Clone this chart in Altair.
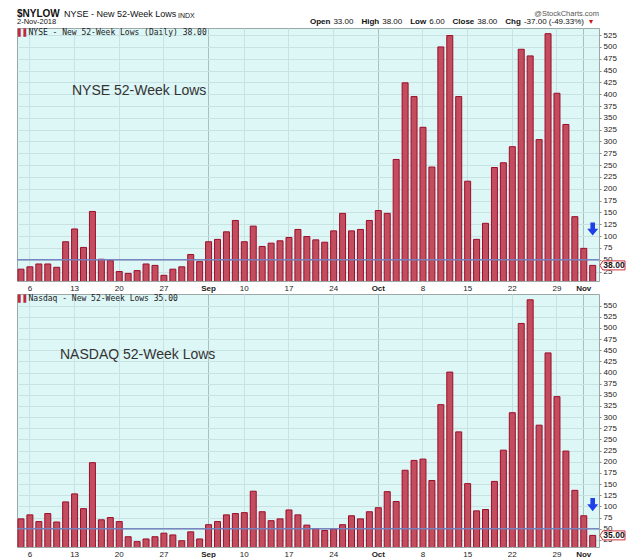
import altair as alt
import pandas as pd

# ---------------- data ----------------
dates = [d.strftime("%Y-%m-%d") for d in pd.bdate_range("2018-08-03", "2018-11-02")
         if d.strftime("%Y-%m-%d") != "2018-09-03"]

nyse = [30, 35, 41, 41, 34, 88, 115, 76, 152, 51, 48, 25, 21, 27, 41, 38, 17, 30, 35, 61,
        46, 88, 93, 109, 133, 88, 121, 78, 85, 90, 97, 114, 99, 92, 87, 111, 148, 111, 114, 133,
        154, 148, 262, 424, 395, 330, 246, 500, 524, 395, 216, 93, 127, 245, 255, 289, 495, 481,
        304, 528, 402, 336, 141, 74, 38]

nasdaq = [72, 81, 66, 84, 65, 110, 128, 95, 198, 70, 75, 66, 32, 21, 27, 32, 40, 36, 23, 43,
          27, 59, 66, 81, 84, 86, 134, 88, 68, 72, 92, 81, 58, 50, 46, 49, 59, 79, 72, 88,
          97, 133, 111, 181, 203, 206, 158, 328, 401, 267, 151, 90, 93, 156, 226, 310, 510, 563,
          282, 444, 346, 224, 136, 79, 35]

tick_dates = ["2018-08-06", "2018-08-13", "2018-08-20", "2018-08-27", "2018-09-04", "2018-09-10",
              "2018-09-17", "2018-09-24", "2018-10-01", "2018-10-08", "2018-10-15", "2018-10-22",
              "2018-10-29", "2018-11-01"]
tick_labels = ["6", "13", "20", "27", "Sep", "10", "17", "24", "Oct", "8", "15", "22", "29", "Nov"]
month_dates = ["2018-09-04", "2018-10-01", "2018-11-01"]

ref_level = 50
arrow_levels = [115, 104]
nyse_yticks = list(range(25, 526, 25))
nasdaq_yticks = list(range(25, 551, 25))

# ---------------- style ----------------
W, H = 582, 253
FONT = "Liberation Sans"
BG = "#ddf6f6"
GRID = "#c8e1e1"
GRID_DARK = "#a9bebe"
ARROW = "M-0.42,-1.2 L0.42,-1.2 L0.42,-0.05 L1,-0.05 L0,1.2 L-1,-0.05 L-0.42,-0.05 Z"
BOX = "M-1,0 L-0.78,-0.36 L1,-0.36 L1,0.36 L-0.78,0.36 Z"

js_dates = "[" + ",".join(f"'{d}'" for d in tick_dates) + "]"
js_labels = "[" + ",".join(f"'{t}'" for t in tick_labels) + "]"
js_months = "[" + ",".join(f"'{d}'" for d in month_dates) + "]"
label_expr = f"{js_labels}[indexof({js_dates}, datum.value)]"
month_test = f"indexof({js_months}, datum.value) >= 0"

xscale = alt.Scale(domain=dates, paddingInner=0.33, paddingOuter=0.24, align=0.23)
xaxis = alt.Axis(values=tick_dates, labelExpr=label_expr, title=None, ticks=False,
                 domain=False, labelPadding=3, labelFontSize=8, labelFont=FONT,
                 labelColor="#222", labelAngle=0, grid=True, gridWidth=1,
                 labelOverlap=False,
                 gridColor={"condition": {"test": month_test, "value": GRID_DARK},
                            "value": GRID},
                 labelFontWeight={"condition": {"test": month_test, "value": "bold"},
                                  "value": "normal"})


def panel(values, domain, yticks, legend_text, note_text, note_x, note_y, arrow_y):
    df = pd.DataFrame({"date": dates, "value": values})
    yscale = alt.Scale(domain=domain, zero=False, nice=False)
    yaxis = alt.Axis(orient="right", values=yticks, title=None, grid=True, gridColor=GRID,
                     domain=False, tickSize=2, tickColor="#888", labelPadding=2,
                     labelOverlap=False, labelFontSize=8, labelFont=FONT, labelColor="#222")
    X = lambda f: alt.X(f"{f}:N", scale=xscale, axis=xaxis)
    Y = lambda f: alt.Y(f"{f}:Q", scale=yscale, axis=yaxis)
    bars = alt.Chart(df).mark_bar(fill="#c24d5e", stroke="#9e0d2a", strokeWidth=1,
                                  clip=True).encode(x=X("date"), y=Y("value"))
    rule = alt.Chart(pd.DataFrame({"level": [ref_level]})).mark_rule(
        color="#7282c0", strokeWidth=1.5, opacity=0.95).encode(y=Y("level"))
    last = pd.DataFrame({"date": [dates[-1]], "value": [values[-1]],
                         "label": [f"{values[-1]:.2f}"], "arrow": [arrow_y]})
    arrow = alt.Chart(last).mark_point(shape=ARROW, size=121, filled=True, fill="#1f40e8",
                                       strokeWidth=0, opacity=1).encode(
        x=X("date"), y=Y("arrow"))
    box = alt.Chart(last).mark_point(shape=BOX, size=625, filled=True, fill="white",
                                     stroke="#d0303c", strokeWidth=1, opacity=1).encode(
        x=alt.value(W + 13.5), y=Y("value"))
    boxtext = alt.Chart(last).mark_text(font=FONT, fontSize=8.5, fontWeight="bold",
                                        color="#111", align="center", baseline="middle").encode(
        x=alt.value(W + 15), y=Y("value"), text="label:N")
    icon = alt.Chart(last).mark_text(text="\u258c\u258c", font="DejaVu Sans", fontSize=7,
                                     color="#c0283c", align="left", baseline="middle").encode(
        x=alt.value(1), y=alt.value(5))
    legend = alt.Chart(last).mark_text(text=legend_text, font="DejaVu Sans Mono", fontSize=8,
                                       color="#222", align="left", baseline="middle").encode(
        x=alt.value(11.5), y=alt.value(5))
    note = alt.Chart(last).mark_text(text=note_text, font=FONT, fontSize=14, color="#333",
                                     align="left", baseline="middle").encode(
        x=alt.value(note_x), y=alt.value(note_y))
    return alt.layer(bars, rule, arrow, box, boxtext, icon, legend, note).properties(
        width=W, height=H, view=alt.ViewBackground(fill=BG, stroke="#9aa8a8"))


top = panel(nyse, [5, 540], nyse_yticks, "NYSE - New 52-Week Lows (Daily) 38.00",
            "NYSE 52-Week Lows", 55, 63, arrow_levels[0])
bottom = panel(nasdaq, [9, 576], nasdaq_yticks, "Nasdaq - New 52-Week Lows 35.00",
               "NASDAQ 52-Week Lows", 43, 61, arrow_levels[1])

# ---------------- header ----------------
hdr_df = pd.DataFrame({"k": [0]})


def htext(text, x, y, size, weight="normal", color="#111", align="left", font=FONT):
    return alt.Chart(hdr_df).mark_text(text=text, font=font, fontSize=size, fontWeight=weight,
                                       color=color, align=align, baseline="top").encode(
        x=alt.value(x), y=alt.value(y))


L2 = 8.5
header = alt.layer(
    htext("$NYLOW", 0, 0, 10, "bold"),
    htext("NYSE - New 52-Week Lows", 47, 1, 9),
    htext("INDX", 161, 2.5, 7),
    htext("@StockCharts.com", W, 0.5, 7.5, color="#555", align="right"),
    htext("2-Nov-2018", 0, 9, 7.5),
    htext("Open", 293, L2, 8, "bold"),
    htext("33.00", 316.4, L2, 8),
    htext("High", 344.4, L2, 8, "bold"),
    htext("38.00", 365.2, L2, 8),
    htext("Low", 393.2, L2, 8, "bold"),
    htext("6.00", 412.2, L2, 8),
    htext("Close", 435.5, L2, 8, "bold"),
    htext("38.00", 460.3, L2, 8),
    htext("Chg", 488.3, L2, 8, "bold"),
    htext("-37.00 (-49.33%)", 506.9, L2, 8),
    htext("\u25be", 572, L2, 8, color="#cc1020", font="DejaVu Sans"),
).properties(width=W, height=17, view=alt.ViewBackground(fill="white", stroke="transparent"))

chart = alt.vconcat(header, top, bottom, spacing=0).properties(
    padding={"left": 7, "top": 0, "right": 0, "bottom": 0}
).configure(background="white").configure_axis(labelOverlap=False)

chart.save("out.html", embed_options={"renderer": "svg", "actions": False})
